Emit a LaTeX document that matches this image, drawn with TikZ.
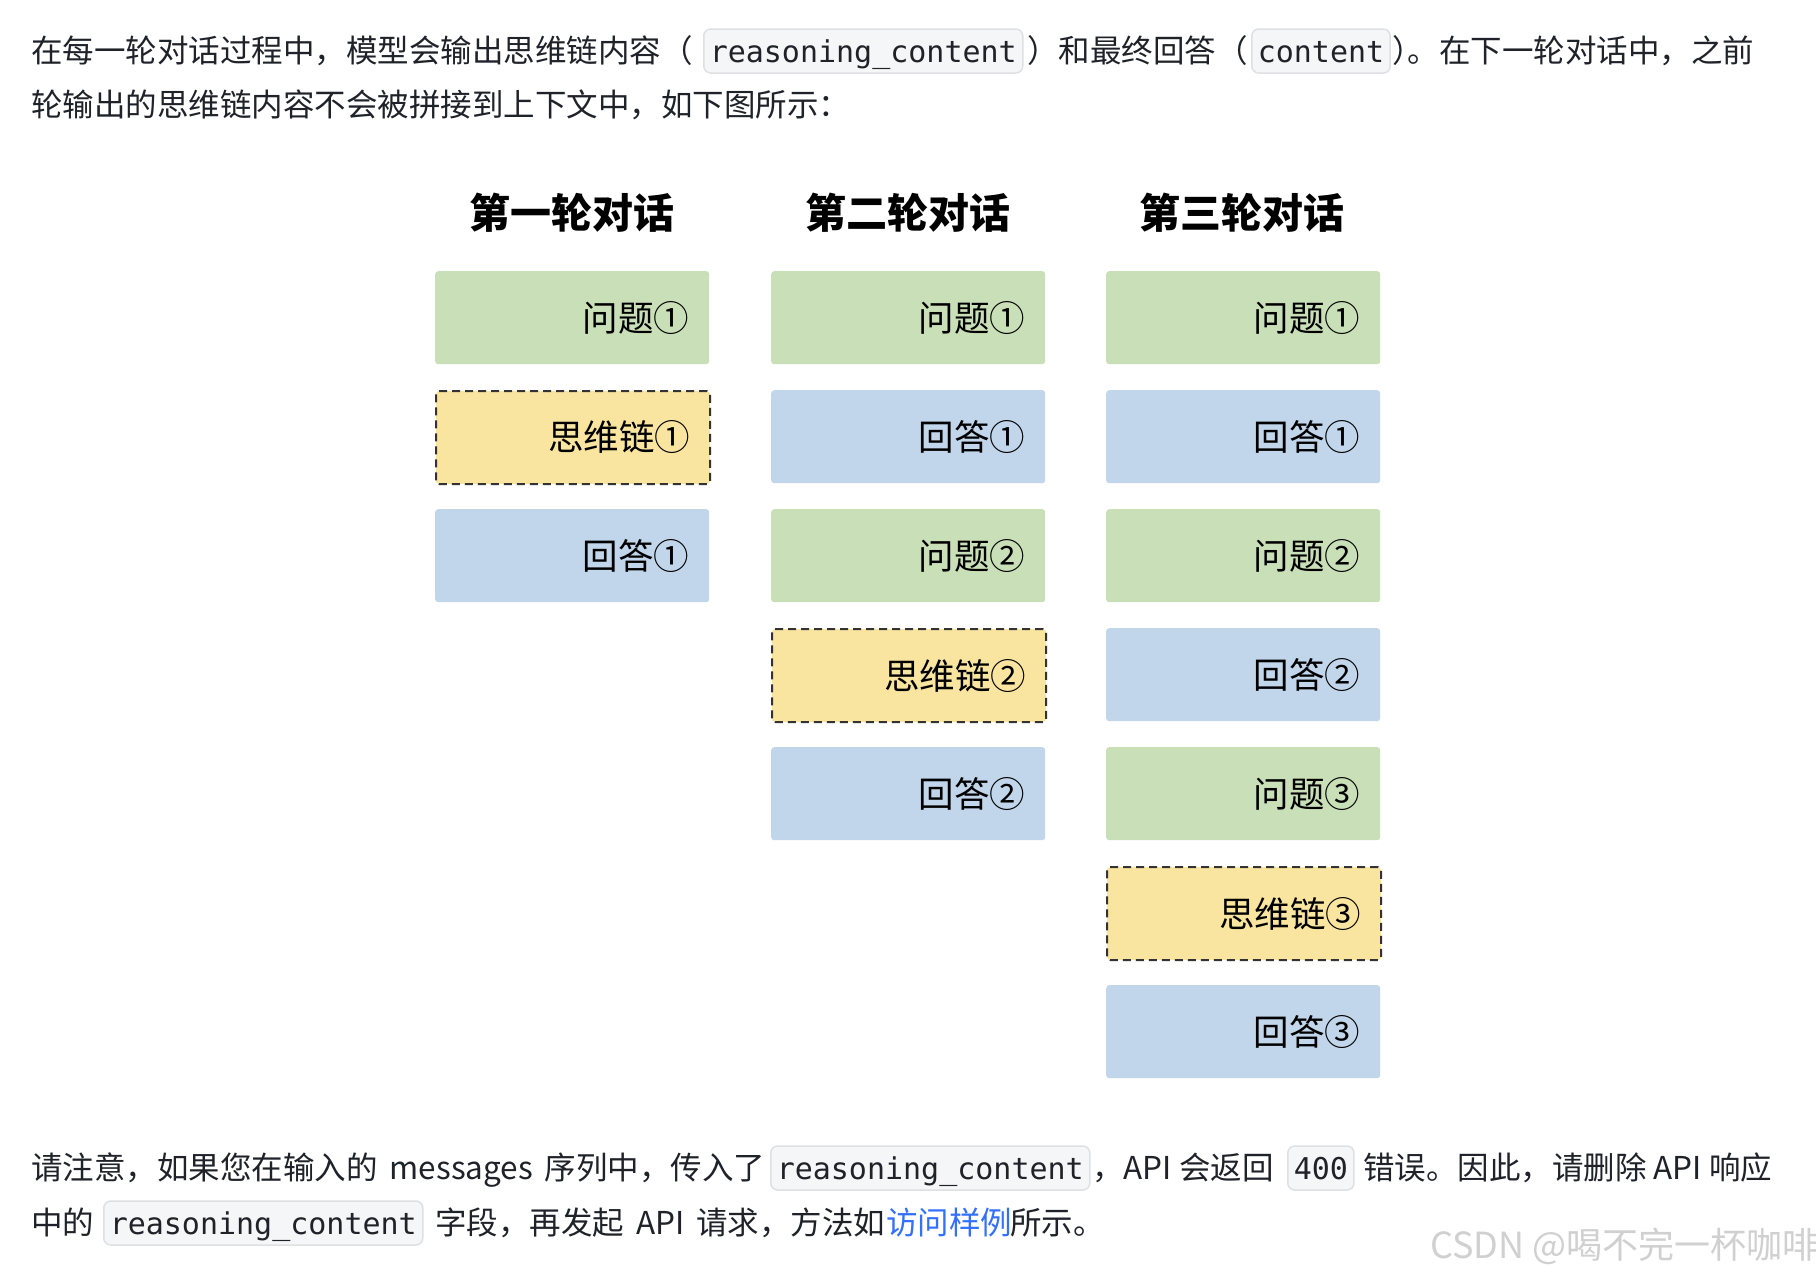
\documentclass[tikz,border=0pt]{standalone}
\usepackage{fontspec}
\setmainfont{Noto Sans CJK SC}
\newfontfamily\codefont{DejaVu Sans Mono}
\definecolor{qgreen}{HTML}{C9DFB7}
\definecolor{ablue}{HTML}{C2D6EB}
\definecolor{cyellow}{HTML}{FAE5A0}
\definecolor{txt}{HTML}{1F2329}
\definecolor{codebg}{HTML}{F5F6F7}
\definecolor{codeln}{HTML}{DEE0E3}
\definecolor{linkblue}{HTML}{3370FF}
\definecolor{wm}{HTML}{D0D0D0}
\newcommand{\halfp}[1]{{\addfontfeatures{RawFeature=+halt}#1}}
\newcommand{\wsp}{\hspace{12pt}}
\tikzset{
  para/.style={font=\fontsize{31.5}{38}\selectfont, text=txt, inner sep=0pt, anchor=base west},
  codebox/.style={font=\codefont\fontsize{30}{36}\selectfont, text=txt, fill=codebg, draw=codeln,
    line width=1.5pt, rounded corners=7pt, inner xsep=6pt, inner ysep=3pt,
    text height=30pt, text depth=8pt, anchor=base west},
  hdr/.style={font=\bfseries\fontsize{41}{48}\selectfont, text=black},
  cellbox/.style={minimum width=274pt, minimum height=93pt, text width=234pt, align=right,
    inner xsep=20pt, inner ysep=0pt, rounded corners=3pt, anchor=north west,
    font=\fontsize{35.5}{42}\selectfont, text=black},
  qbox/.style={cellbox, fill=qgreen},
  abox/.style={cellbox, fill=ablue},
  rbox/.style={cellbox, fill=cyellow, draw=black!80, line width=2pt, dash pattern=on 8pt off 5pt},
}
\begin{document}
\begin{tikzpicture}[x=1pt,y=-1pt]
\useasboundingbox[fill=white] (0,0) rectangle (1816,1278);
% top paragraph
\node[para] (p1a) at (31,62) {在每一轮对话过程中，模型会输出思维链内容（};
\node[codebox] (p1b) at (703,62) {reasoning\_content};
\node[para] (p1c) at (1027,62) {）和最终回答（};
\node[codebox] (p1d) at (1251,62) {content};
\node[para] (p1e) at (1392,62) {\halfp{）}。在下一轮对话中，之前};
\node[para] (p2) at (31,116) {轮输出的思维链内容不会被拼接到上下文中，如下图所示：};
% headers
\node[hdr] (h1) at (572,213) {第一轮对话};
\node[hdr] (h2) at (908,213) {第二轮对话};
\node[hdr] (h3) at (1242,213) {第三轮对话};
% column 1
\node[qbox] (c1r0) at (435,271) {\raisebox{-2pt}{问题①}};
\node[rbox] (c1r1) at (435,390) {\raisebox{-2pt}{思维链①}};
\node[abox] (c1r2) at (435,509) {\raisebox{-2pt}{回答①}};
% column 2
\node[qbox] (c2r0) at (771,271) {\raisebox{-2pt}{问题①}};
\node[abox] (c2r1) at (771,390) {\raisebox{-2pt}{回答①}};
\node[qbox] (c2r2) at (771,509) {\raisebox{-2pt}{问题②}};
\node[rbox] (c2r3) at (771,628) {\raisebox{-2pt}{思维链②}};
\node[abox] (c2r4) at (771,747) {\raisebox{-2pt}{回答②}};
% column 3
\node[qbox] (c3r0) at (1106,271) {\raisebox{-2pt}{问题①}};
\node[abox] (c3r1) at (1106,390) {\raisebox{-2pt}{回答①}};
\node[qbox] (c3r2) at (1106,509) {\raisebox{-2pt}{问题②}};
\node[abox] (c3r3) at (1106,628) {\raisebox{-2pt}{回答②}};
\node[qbox] (c3r4) at (1106,747) {\raisebox{-2pt}{问题③}};
\node[rbox] (c3r5) at (1106,866) {\raisebox{-2pt}{思维链③}};
\node[abox] (c3r6) at (1106,985) {\raisebox{-2pt}{回答③}};
% bottom paragraph
\node[para] (b1a) at (31,1179) {请注意，如果您在输入的\wsp messages\wsp 序列中，传入了};
\node[codebox] (b1b) at (770,1179) {reasoning\_content};
\node[para] (b1c) at (1092,1179) {，API 会返回};
\node[codebox] (b1d) at (1287,1179) {400};
\node[para] (b1e) at (1363,1179) {错误。因此，请删除 API 响应};
\node[para] (b2a) at (31,1234) {中的};
\node[codebox] (b2b) at (103,1234) {reasoning\_content};
\node[para] (b2c) at (435,1234) {字段，再发起\wsp API\wsp 请求，方法如};
\node[para, text=linkblue] (b2d) at (886,1234) {访问样例};
\node[para] (b2e) at (1010,1234) {所示。};
% watermark
\node[anchor=west, inner sep=0pt, text=wm, font=\fontsize{36}{42}\selectfont] (wmk) at (1430,1246) {CSDN @喝不完一杯咖啡};
\end{tikzpicture}
\end{document}
